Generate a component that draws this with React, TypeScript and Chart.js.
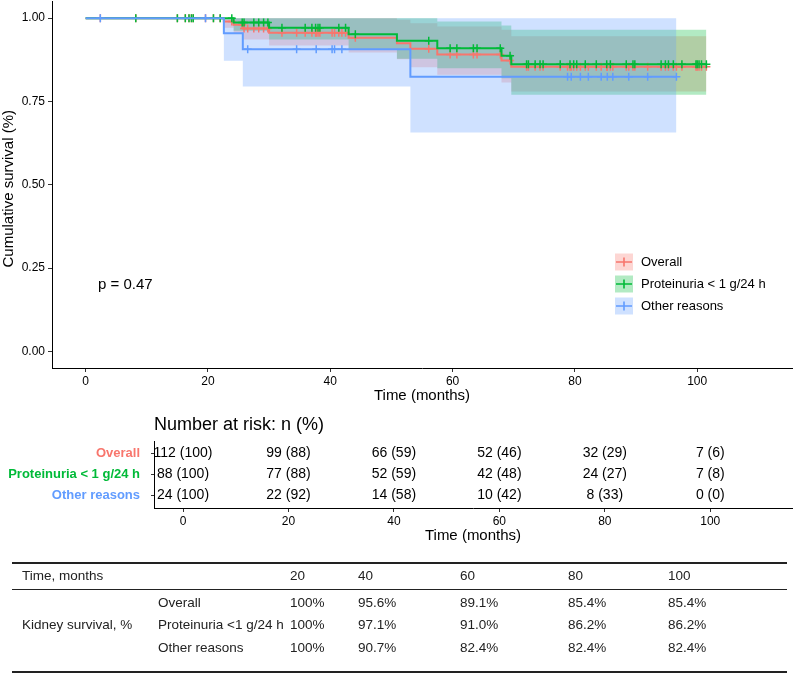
import React, { useEffect, useRef } from "react";
import { Chart, registerables } from "chart.js";
Chart.register(...registerables);

const FONT = "'Liberation Sans', Arial, Helvetica, sans-serif";
Chart.defaults.font.family = FONT;

// ---------- Groups ----------
const groupNames = ["Overall", "Proteinuria < 1 g/24 h", "Other reasons"];
const lineColors = ["#F8766D", "#00BA38", "#619CFF"];
const bandColors = ["rgba(248,118,109,0.3)", "rgba(0,186,56,0.3)", "rgba(97,156,255,0.3)"];

// ---------- Kaplan-Meier: Overall ----------
const overallTimes = [0, 22.6, 24.2, 25.7, 30.0, 43.0, 50.9, 53.1, 57.5, 68.0, 69.6];
const overallSurv = [1, 0.99, 0.98, 0.969, 0.956, 0.941, 0.925, 0.908, 0.891, 0.873, 0.854];
const overallLower = [1, 0.971, 0.953, 0.936, 0.918, 0.897, 0.877, 0.853, 0.83, 0.807, 0.78];
const overallUpper = [1, 1, 1, 1, 1, 1, 0.995, 0.985, 0.975, 0.965, 0.946];
const overallEnd = 101.5;

// ---------- Kaplan-Meier: Proteinuria < 1 g/24 h ----------
const protTimes = [0, 24.2, 30.0, 43.0, 50.9, 57.5, 68.0, 69.6];
const protSurv = [1, 0.987, 0.971, 0.952, 0.932, 0.91, 0.887, 0.862];
const protLower = [1, 0.962, 0.936, 0.905, 0.878, 0.85, 0.82, 0.77];
const protUpper = [1, 1, 1, 1, 1, 0.99, 0.978, 0.965];
const protEnd = 101.5;
const protCensor = [8.2, 15.0, 16.3, 16.9, 17.3, 17.6, 20.9, 22.0, 23.9, 25.6, 25.9, 27.5, 28.3, 29.1, 29.8, 32.1, 35.9, 37.0, 37.6, 38.0, 38.3, 41.4, 42.5, 44.1, 56.1, 59.6, 60.7, 63.4, 64.0, 67.8, 69.4, 72.1, 72.4, 73.5, 74.3, 74.8, 77.6, 79.2, 79.8, 80.3, 81.7, 83.5, 85.2, 85.8, 88.4, 89.5, 89.8, 94.1, 94.8, 95.3, 96.1, 97.5, 99.8, 100.0, 100.3, 100.7, 101.5];

// ---------- Kaplan-Meier: Other reasons ----------
const otherTimes = [0, 22.6, 25.7, 53.1];
const otherSurv = [1, 0.955, 0.907, 0.824];
const otherLower = [1, 0.872, 0.795, 0.657];
const otherUpper = [1, 1, 1, 1];
const otherEnd = 96.6;
const otherCensor = [2.4, 19.6, 26.5, 34.5, 37.7, 40.3, 40.7, 41.9, 78.8, 79.4, 80.9, 82.2, 84.3, 85.3, 86.2, 88.8, 91.9, 96.6];

// ---------- Axes ----------
const xTicks = [0, 20, 40, 60, 80, 100];
const yTicks = [0, 0.25, 0.5, 0.75, 1];
const pValueText = "p = 0.47";

// ---------- Number at risk ----------
const riskTimes = [0, 20, 40, 60, 80, 100];
const riskOverallN = [112, 99, 66, 52, 32, 7];
const riskOverallPct = [100, 88, 59, 46, 29, 6];
const riskProtN = [88, 77, 52, 42, 24, 7];
const riskProtPct = [100, 88, 59, 48, 27, 8];
const riskOtherN = [24, 22, 14, 10, 8, 0];
const riskOtherPct = [100, 92, 58, 42, 33, 0];

// ---------- Summary table ----------
const tableTimes = [20, 40, 60, 80, 100];
const tableRowLabels = ["Overall", "Proteinuria <1 g/24 h", "Other reasons"];
const tableOverall = [100, 95.6, 89.1, 85.4, 85.4];
const tableProt = [100, 97.1, 91.0, 86.2, 86.2];
const tableOther = [100, 90.7, 82.4, 82.4, 82.4];

// ---------- helpers ----------
function stepPoints(times: number[], vals: number[], end: number) {
  const pts: { x: number; y: number }[] = [];
  for (let i = 0; i < times.length; i++) {
    if (i > 0) pts.push({ x: times[i], y: vals[i - 1] });
    pts.push({ x: times[i], y: vals[i] });
  }
  pts.push({ x: end, y: vals[vals.length - 1] });
  return pts;
}
function survAt(times: number[], vals: number[], t: number) {
  let v = vals[0];
  for (let i = 0; i < times.length; i++) if (times[i] <= t) v = vals[i];
  return v;
}
function censorPoints(times: number[], vals: number[], cens: number[]) {
  return cens.map((t) => ({ x: t, y: survAt(times, vals, t) }));
}

const overallCensor = [...protCensor, ...otherCensor].sort((a, b) => a - b);

const groups = [
  { times: overallTimes, surv: overallSurv, lower: overallLower, upper: overallUpper, end: overallEnd, censor: overallCensor },
  { times: protTimes, surv: protSurv, lower: protLower, upper: protUpper, end: protEnd, censor: protCensor },
  { times: otherTimes, surv: otherSurv, lower: otherLower, upper: otherUpper, end: otherEnd, censor: otherCensor },
];

function buildDatasets() {
  const ds: any[] = [];
  // index 0 drawn on top: blue, green, red
  [2, 1, 0].forEach((g) => {
    const G = groups[g];
    ds.push({
      data: censorPoints(G.times, G.surv, G.censor),
      showLine: false,
      pointStyle: "cross",
      pointRadius: 4,
      pointBorderWidth: 1.5,
      pointBorderColor: lineColors[g],
      pointBackgroundColor: lineColors[g],
    });
    ds.push({
      data: stepPoints(G.times, G.surv, G.end),
      borderColor: lineColors[g],
      borderWidth: 2,
      pointRadius: 0,
      fill: false,
      tension: 0,
    });
  });
  [2, 1, 0].forEach((g) => {
    const G = groups[g];
    ds.push({
      data: stepPoints(G.times, G.upper, G.end),
      borderWidth: 0,
      borderColor: "rgba(0,0,0,0)",
      pointRadius: 0,
      backgroundColor: bandColors[g],
      fill: "+1",
      tension: 0,
    });
    ds.push({
      data: stepPoints(G.times, G.lower, G.end),
      borderWidth: 0,
      borderColor: "rgba(0,0,0,0)",
      pointRadius: 0,
      fill: false,
      tension: 0,
    });
  });
  return ds;
}

const kmTextPlugin = {
  id: "kmText",
  afterDraw(chart: any) {
    const { ctx, chartArea } = chart;
    ctx.save();
    ctx.fillStyle = "#000";
    // y title
    ctx.font = `15px ${FONT}`;
    ctx.textAlign = "center";
    ctx.textBaseline = "middle";
    ctx.save();
    ctx.translate(9, (chartArea.top + chartArea.bottom) / 2 + 4);
    ctx.rotate(-Math.PI / 2);
    ctx.fillText("Cumulative survival (%)", 0, 0);
    ctx.restore();
    // x title
    ctx.fillText("Time (months)", (chartArea.left + chartArea.right) / 2, 400);
    // p value
    ctx.textAlign = "left";
    ctx.fillText(pValueText, 98, 289);
    // legend
    const rowsY = [266, 288, 310];
    groupNames.forEach((name, i) => {
      const y = rowsY[i];
      ctx.fillStyle = bandColors[i];
      ctx.fillRect(615, y - 8.5, 18, 17);
      ctx.strokeStyle = lineColors[i];
      ctx.lineWidth = 1.6;
      ctx.beginPath();
      ctx.moveTo(616, y);
      ctx.lineTo(632, y);
      ctx.moveTo(624, y - 4.5);
      ctx.lineTo(624, y + 4.5);
      ctx.stroke();
      ctx.fillStyle = "#000";
      ctx.font = `13px ${FONT}`;
      ctx.fillText(name, 641, y);
    });
    ctx.restore();
  },
};

const riskTextPlugin = {
  id: "riskText",
  afterDraw(chart: any) {
    const { ctx, chartArea, scales } = chart;
    const x = scales.x;
    const y = scales.y;
    const rows = [
      { n: riskOverallN, p: riskOverallPct },
      { n: riskProtN, p: riskProtPct },
      { n: riskOtherN, p: riskOtherPct },
    ];
    ctx.save();
    ctx.fillStyle = "#000";
    ctx.textBaseline = "middle";
    ctx.textAlign = "center";
    ctx.font = `14px ${FONT}`;
    rows.forEach((r, gi) => {
      const yy = y.getPixelForValue(3 - gi);
      riskTimes.forEach((t, i) => {
        ctx.fillText(`${r.n[i]} (${r.p[i]})`, x.getPixelForValue(t), yy);
      });
    });
    ctx.font = `15px ${FONT}`;
    ctx.fillText("Time (months)", (chartArea.left + chartArea.right) / 2, 131);
    ctx.textAlign = "left";
    ctx.font = `18px ${FONT}`;
    ctx.fillText("Number at risk: n (%)", chartArea.left, 20);
    ctx.restore();
  },
};

function fmtPct(v: number) {
  return v === 100 ? "100%" : `${v.toFixed(1)}%`;
}

const tableColX = [290, 358, 460, 568, 668];
const tableRowY = [603, 625, 648];

function Cell({ left, cy, children }: { left: number; cy: number; children: any }) {
  return (
    <div
      style={{
        position: "absolute",
        left,
        top: cy - 10,
        height: 20,
        lineHeight: "20px",
        whiteSpace: "nowrap",
      }}
    >
      {children}
    </div>
  );
}

export default function App() {
  const kmRef = useRef<HTMLCanvasElement>(null);
  const riskRef = useRef<HTMLCanvasElement>(null);

  useEffect(() => {
    const km = new Chart(kmRef.current!, {
      type: "line",
      data: { datasets: buildDatasets() },
      options: {
        animation: false,
        responsive: false,
        events: [],
        layout: { padding: { left: 0, right: 8, top: 0, bottom: 0 } },
        plugins: { legend: { display: false }, tooltip: { enabled: false } },
        scales: {
          x: {
            type: "linear",
            min: -5.5,
            max: 115.5,
            afterBuildTicks: (s: any) => {
              s.ticks = xTicks.map((v) => ({ value: v }));
            },
            afterFit: (s: any) => {
              s.height = 38;
              s.paddingLeft = 0;
              s.paddingRight = 0;
            },
            grid: { drawOnChartArea: false, drawTicks: true, tickLength: 4, color: "#333" },
            border: { display: true, color: "#000", width: 1 },
            ticks: { color: "#000", font: { size: 12 }, padding: 2, maxRotation: 0 },
          },
          y: {
            type: "linear",
            min: -0.05,
            max: 1.05,
            afterBuildTicks: (s: any) => {
              s.ticks = yTicks.map((v) => ({ value: v }));
            },
            afterFit: (s: any) => {
              s.width = 52;
              s.paddingTop = 0;
              s.paddingBottom = 0;
            },
            grid: { drawOnChartArea: false, drawTicks: true, tickLength: 4, color: "#333" },
            border: { display: true, color: "#000", width: 1 },
            ticks: {
              color: "#000",
              font: { size: 12 },
              padding: 3,
              callback: (v: any) => Number(v).toFixed(2),
            },
          },
        },
      } as any,
      plugins: [kmTextPlugin],
    });

    const risk = new Chart(riskRef.current!, {
      type: "scatter",
      data: { datasets: [] },
      options: {
        animation: false,
        responsive: false,
        events: [],
        layout: { padding: { left: 0, right: 8, top: 36, bottom: 0 } },
        plugins: { legend: { display: false }, tooltip: { enabled: false } },
        scales: {
          x: {
            type: "linear",
            min: -5.5,
            max: 115.5,
            afterBuildTicks: (s: any) => {
              s.ticks = riskTimes.map((v) => ({ value: v }));
            },
            afterFit: (s: any) => {
              s.height = 37;
              s.paddingLeft = 0;
              s.paddingRight = 0;
            },
            grid: { drawOnChartArea: false, drawTicks: true, tickLength: 4, color: "#333" },
            border: { display: true, color: "#000", width: 1 },
            ticks: { color: "#000", font: { size: 12 }, padding: 2, maxRotation: 0 },
          },
          y: {
            type: "linear",
            min: 0.4,
            max: 3.6,
            afterBuildTicks: (s: any) => {
              s.ticks = [1, 2, 3].map((v) => ({ value: v }));
            },
            afterFit: (s: any) => {
              s.width = 154;
              s.paddingTop = 0;
              s.paddingBottom = 0;
            },
            grid: { drawOnChartArea: false, drawTicks: true, tickLength: 3, color: "#333" },
            border: { display: true, color: "#000", width: 1 },
            ticks: {
              font: { size: 13, weight: "bold" },
              padding: 11,
              color: (c: any) => lineColors[3 - c.tick.value] || "#000",
              callback: (v: any) => groupNames[3 - Number(v)] || "",
            },
          },
        },
      } as any,
      plugins: [riskTextPlugin],
    });

    return () => {
      km.destroy();
      risk.destroy();
    };
  }, []);

  const tableRows = [tableOverall, tableProt, tableOther];

  return (
    <div
      style={{
        position: "absolute",
        left: 0,
        top: 0,
        width: 800,
        height: 674,
        overflow: "hidden",
        background: "#fff",
        fontFamily: FONT,
      }}
    >
      <canvas ref={kmRef} width={800} height={410} style={{ position: "absolute", left: 0, top: -4 }} />
      <canvas ref={riskRef} width={800} height={140} style={{ position: "absolute", left: 0, top: 405 }} />
      <div style={{ position: "absolute", left: 0, top: 0, width: 800, height: 674, fontSize: 13.5, color: "#222" }}>
        <div style={{ position: "absolute", left: 12, width: 775, top: 562, height: 2, background: "#222" }} />
        <div style={{ position: "absolute", left: 12, width: 775, top: 589, height: 1, background: "#222" }} />
        <div style={{ position: "absolute", left: 12, width: 775, top: 671, height: 2, background: "#222" }} />
        <Cell left={22} cy={576}>Time, months</Cell>
        {tableTimes.map((t, i) => (
          <Cell key={"h" + i} left={tableColX[i]} cy={576}>
            {t}
          </Cell>
        ))}
        <Cell left={22} cy={tableRowY[1]}>Kidney survival, %</Cell>
        {tableRowLabels.map((lab, r) => (
          <React.Fragment key={"r" + r}>
            <Cell left={158} cy={tableRowY[r]}>
              {lab}
            </Cell>
            {tableRows[r].map((v, i) => (
              <Cell key={"c" + r + "_" + i} left={tableColX[i]} cy={tableRowY[r]}>
                {fmtPct(v)}
              </Cell>
            ))}
          </React.Fragment>
        ))}
      </div>
    </div>
  );
}
